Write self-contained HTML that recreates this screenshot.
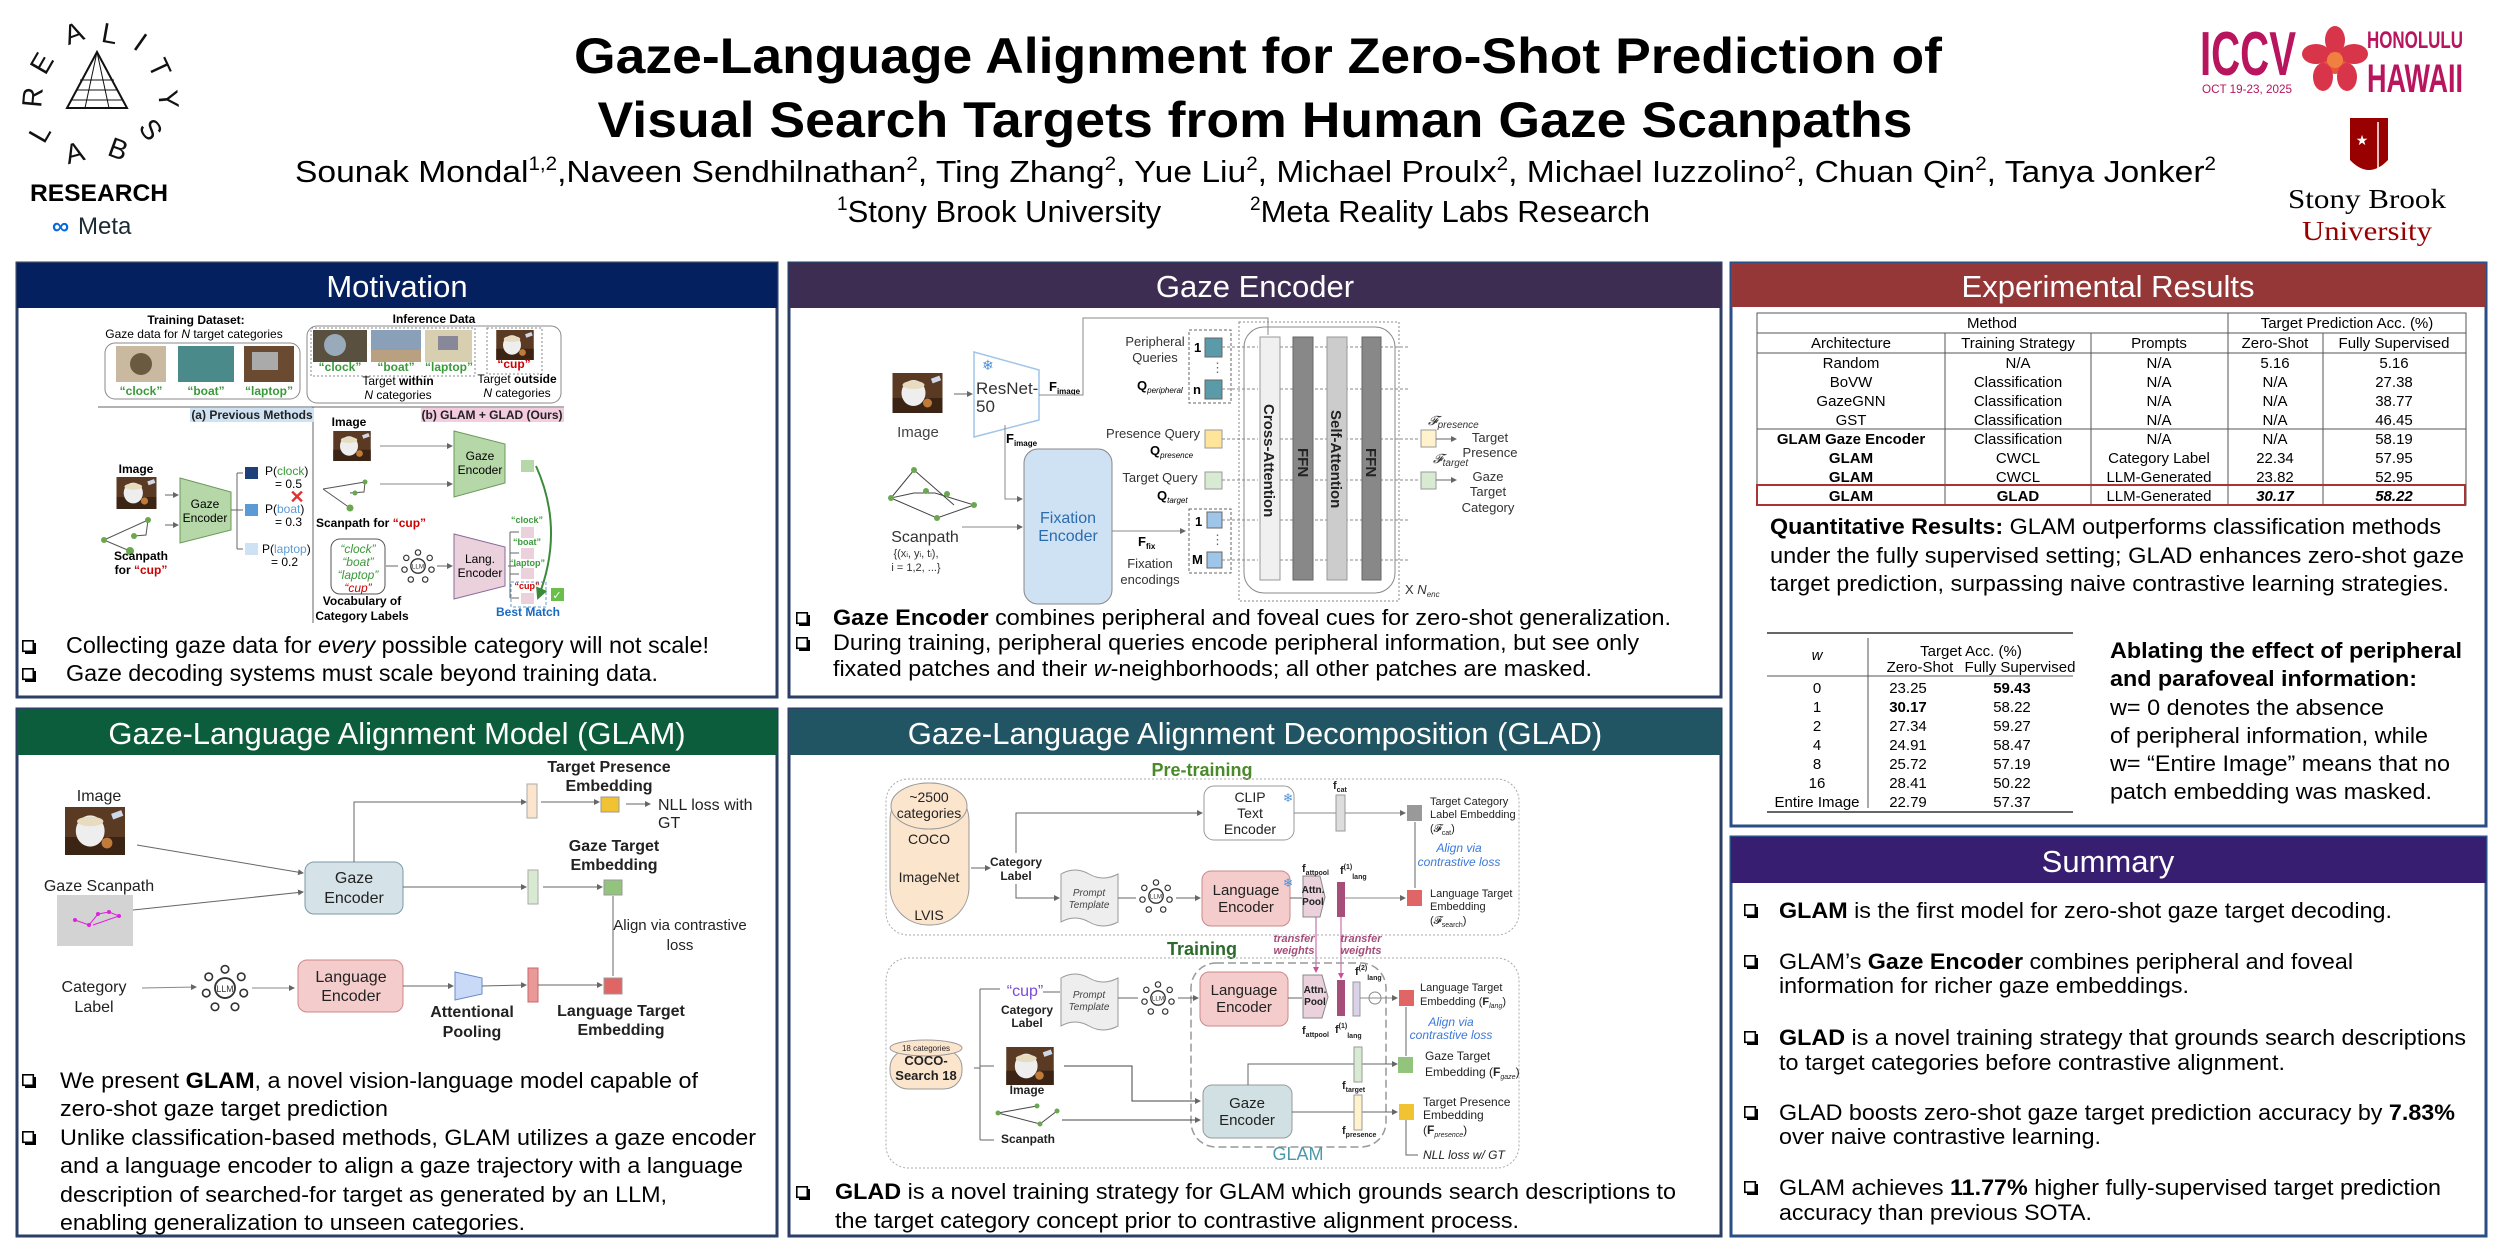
<!DOCTYPE html>
<html><head><meta charset="utf-8"><style>
html,body{margin:0;padding:0;background:#fff;}
svg{display:block;}
text{font-family:"Liberation Sans",Arial,sans-serif;}
.s{font-family:"Liberation Serif",serif;}
</style></head><body>
<svg width="2500" height="1250" viewBox="0 0 2500 1250" xmlns="http://www.w3.org/2000/svg">
<defs>
<symbol id="cup" viewBox="0 0 100 80"><rect width="100" height="80" fill="#5a3a22"/><rect x="0" y="50" width="100" height="30" fill="#3b2414"/><ellipse cx="42" cy="40" rx="24" ry="26" fill="#eee"/><ellipse cx="42" cy="24" rx="22" ry="8" fill="#e8dcc0"/><rect x="78" y="8" width="18" height="10" fill="#cfd8e8" transform="rotate(-20 87 13)"/><circle cx="70" cy="60" r="9" fill="#c07a3a"/></symbol>
<symbol id="llm" viewBox="0 0 40 40"><circle cx="20" cy="20" r="8" fill="#fff" stroke="#333" stroke-width="1.5"/><g fill="#fff" stroke="#333" stroke-width="1.3"><circle cx="20" cy="5" r="3"/><circle cx="33" cy="11" r="3"/><circle cx="35" cy="24" r="3"/><circle cx="28" cy="35" r="3"/><circle cx="12" cy="35" r="3"/><circle cx="5" cy="24" r="3"/><circle cx="7" cy="11" r="3"/></g><text x="20" y="23" font-size="7" text-anchor="middle" fill="#333">LLM</text></symbol>
<symbol id="bul" viewBox="0 0 14 14"><rect x="3" y="3" width="11" height="11" fill="#000"/><rect x="0.8" y="0.8" width="10.5" height="10.5" fill="#fff" stroke="#000" stroke-width="1.6"/></symbol>
<marker id="ar" markerWidth="6" markerHeight="6" refX="5" refY="3" orient="auto"><path d="M0,0 L6,3 L0,6z" fill="#666"/></marker>
<marker id="arp" markerWidth="6" markerHeight="6" refX="5" refY="3" orient="auto"><path d="M0,0 L6,3 L0,6z" fill="#c2559a"/></marker>
<marker id="arg" markerWidth="6" markerHeight="6" refX="5" refY="3" orient="auto"><path d="M0,0 L6,3 L0,6z" fill="#3a8a3a"/></marker>
</defs>

<!-- ===== HEADER ===== -->
<g font-size="28" fill="#111" text-anchor="middle">
<text x="42" y="98" transform="rotate(-85 42 98)">R</text>
<text x="50" y="68" transform="rotate(-60 50 68)">E</text>
<text x="77" y="42" transform="rotate(-20 77 42)">A</text>
<text x="108" y="43" transform="rotate(10 108 43)">L</text>
<text x="135" y="50" transform="rotate(35 135 50)">I</text>
<text x="151" y="72" transform="rotate(65 151 72)">T</text>
<text x="159" y="100" transform="rotate(85 159 100)">Y</text>
<text x="48" y="138" transform="rotate(-60 48 138)">L</text>
<text x="77" y="162" transform="rotate(-15 77 162)">A</text>
<text x="115" y="158" transform="rotate(20 115 158)">B</text>
<text x="143" y="135" transform="rotate(55 143 135)">S</text>
</g>
<path d="M97,52 L67,108 L127,108 Z" fill="none" stroke="#111" stroke-width="2"/>
<path d="M97,52 L85,108 M97,52 L109,108 M76,90 L118,90 M72,100 L122,100 M80,80 L114,80" stroke="#111" stroke-width="1"/>
<text x="99" y="201" font-size="24" font-weight="bold" text-anchor="middle" textLength="138" lengthAdjust="spacingAndGlyphs">RESEARCH</text>
<text x="52" y="234" font-size="24" fill="#0668e1" font-weight="bold">∞</text>
<text x="78" y="234" font-size="24" fill="#1c2b33">Meta</text>

<text x="1258" y="73" font-size="50" font-weight="bold" text-anchor="middle" textLength="1368" lengthAdjust="spacingAndGlyphs">Gaze-Language Alignment for Zero-Shot Prediction of</text>
<text x="1255" y="137" font-size="50" font-weight="bold" text-anchor="middle" textLength="1315" lengthAdjust="spacingAndGlyphs">Visual Search Targets from Human Gaze Scanpaths</text>
<text x="295" y="182" font-size="31" textLength="1921" lengthAdjust="spacingAndGlyphs">Sounak Mondal<tspan font-size="19" dy="-12">1,2</tspan><tspan dy="12">,Naveen Sendhilnathan</tspan><tspan font-size="19" dy="-12">2</tspan><tspan dy="12">, Ting Zhang</tspan><tspan font-size="19" dy="-12">2</tspan><tspan dy="12">, Yue Liu</tspan><tspan font-size="19" dy="-12">2</tspan><tspan dy="12">, Michael Proulx</tspan><tspan font-size="19" dy="-12">2</tspan><tspan dy="12">, Michael Iuzzolino</tspan><tspan font-size="19" dy="-12">2</tspan><tspan dy="12">, Chuan Qin</tspan><tspan font-size="19" dy="-12">2</tspan><tspan dy="12">, Tanya Jonker</tspan><tspan font-size="19" dy="-12">2</tspan></text>
<text x="837" y="222" font-size="31"><tspan font-size="19" dy="-12">1</tspan><tspan dy="12">Stony Brook University</tspan></text>
<text x="1250" y="222" font-size="31"><tspan font-size="19" dy="-12">2</tspan><tspan dy="12">Meta Reality Labs Research</tspan></text>

<text x="2200" y="75" font-size="62" font-weight="bold" fill="#b8155e" textLength="96" lengthAdjust="spacingAndGlyphs">ICCV</text>
<text x="2202" y="93" font-size="12" fill="#b8155e" textLength="90" lengthAdjust="spacingAndGlyphs">OCT 19-23, 2025</text>
<g transform="translate(2335,60)"><circle r="14" fill="#e8553a"/><g fill="#d8344a"><ellipse cx="0" cy="-20" rx="10" ry="14"/><ellipse cx="19" cy="-6" rx="14" ry="10"/><ellipse cx="12" cy="17" rx="10" ry="14"/><ellipse cx="-12" cy="17" rx="10" ry="14"/><ellipse cx="-19" cy="-6" rx="14" ry="10"/></g><circle r="8" fill="#f08040"/></g>
<text x="2367" y="48" font-size="24" font-weight="bold" fill="#b8155e" textLength="96" lengthAdjust="spacingAndGlyphs">HONOLULU</text>
<text x="2367" y="92" font-size="40" font-weight="bold" fill="#b8155e" textLength="96" lengthAdjust="spacingAndGlyphs">HAWAII</text>
<path d="M2350,118 L2388,118 L2388,160 Q2369,180 2350,160 Z" fill="#990000"/>
<path d="M2378,122 L2378,170" stroke="#fff" stroke-width="1.5"/>
<text x="2362" y="145" font-size="14" fill="#fff" text-anchor="middle">★</text>
<text x="2367" y="208" class="s" font-size="27" text-anchor="middle" textLength="158" lengthAdjust="spacingAndGlyphs">Stony Brook</text>
<text x="2367" y="240" class="s" font-size="27" fill="#990000" text-anchor="middle" textLength="130" lengthAdjust="spacingAndGlyphs">University</text>

<!-- ===== PANELS ===== -->
<g stroke-width="3" fill="#fff">
<rect x="17" y="263" width="760" height="434" stroke="#2a3e66"/>
<rect x="789" y="263" width="932" height="434" stroke="#2a3e66"/>
<rect x="17" y="709" width="760" height="527" stroke="#2a3e66"/>
<rect x="789" y="709" width="932" height="527" stroke="#2a3e66"/>
<rect x="1731" y="263" width="755" height="563" stroke="#2a4e86"/>
<rect x="1731" y="837" width="755" height="399" stroke="#2a4e86"/>
</g>
<rect x="17" y="263" width="760" height="45" fill="#05205f"/>
<rect x="789" y="263" width="932" height="45" fill="#3e2d52"/>
<rect x="17" y="709" width="760" height="46" fill="#0b5d3c"/>
<rect x="789" y="709" width="932" height="46" fill="#215564"/>
<rect x="1731" y="263" width="755" height="44" fill="#953637"/>
<rect x="1731" y="837" width="755" height="46" fill="#381e70"/>
<g fill="#fff" font-size="31" text-anchor="middle">
<text x="397" y="297">Motivation</text>
<text x="1255" y="297">Gaze Encoder</text>
<text x="397" y="744">Gaze-Language Alignment Model (GLAM)</text>
<text x="1255" y="744">Gaze-Language Alignment Decomposition (GLAD)</text>
<text x="2108" y="297">Experimental Results</text>
<text x="2108" y="872">Summary</text>
</g>

<!-- ===== MOTIVATION DIAGRAM ===== -->
<g font-size="12">
<text x="196" y="324" font-weight="bold" text-anchor="middle">Training Dataset:</text>
<text x="194" y="338" text-anchor="middle">Gaze data for <tspan font-style="italic">N</tspan> target categories</text>
<rect x="105" y="343" width="195" height="56" rx="10" fill="none" stroke="#888"/>
<rect x="116" y="346" width="50" height="36" fill="#c9b9a0"/><circle cx="141" cy="364" r="11" fill="#6a5a40"/>
<rect x="178" y="346" width="56" height="36" fill="#4a8a8a"/>
<rect x="244" y="346" width="50" height="36" fill="#6a4a30"/><rect x="252" y="352" width="26" height="18" fill="#aaa"/>
<g fill="#3a9a3a" font-weight="bold" text-anchor="middle"><text x="141" y="395">“clock”</text><text x="206" y="395">“boat”</text><text x="269" y="395">“laptop”</text></g>
<text x="434" y="323" font-weight="bold" text-anchor="middle">Inference Data</text>
<rect x="307" y="326" width="254" height="77" rx="10" fill="none" stroke="#888"/>
<rect x="311" y="328" width="164" height="48" fill="none" stroke="#888" stroke-dasharray="2,2"/>
<rect x="487" y="328" width="55" height="46" fill="none" stroke="#888" stroke-dasharray="2,2"/>
<rect x="313" y="330" width="54" height="32" fill="#5a5040"/><circle cx="335" cy="345" r="11" fill="#9ab"/>
<rect x="371" y="330" width="50" height="32" fill="#8aa0b8"/><rect x="371" y="350" width="50" height="12" fill="#b8a080"/>
<rect x="425" y="330" width="47" height="32" fill="#d8cfb0"/><rect x="438" y="336" width="20" height="14" fill="#889"/>
<use href="#cup" x="490" y="330" width="50" height="30"/>
<g fill="#3a9a3a" font-weight="bold" text-anchor="middle"><text x="340" y="371">“clock”</text><text x="396" y="371">“boat”</text><text x="449" y="371">“laptop”</text></g>
<text x="514" y="368" fill="#c00" font-weight="bold" text-anchor="middle">“cup”</text>
<text x="398" y="385" text-anchor="middle">Target <tspan font-weight="bold">within</tspan></text>
<text x="398" y="399" text-anchor="middle"><tspan font-style="italic">N</tspan> categories</text>
<text x="517" y="383" text-anchor="middle">Target <tspan font-weight="bold">outside</tspan></text>
<text x="517" y="397" text-anchor="middle"><tspan font-style="italic">N</tspan> categories</text>
<line x1="98" y1="407" x2="564" y2="407" stroke="#666"/>
<line x1="313" y1="407" x2="313" y2="623" stroke="#666"/>
<rect x="190" y="408" width="124" height="14" fill="#cfe2f3"/><text x="252" y="419" font-weight="bold" fill="#222" text-anchor="middle">(a) Previous Methods</text>
<rect x="421" y="408" width="143" height="14" fill="#f4cce0"/><text x="492" y="419" font-weight="bold" fill="#222" text-anchor="middle">(b) GLAM + GLAD (Ours)</text>
<text x="136" y="473" font-weight="bold" text-anchor="middle">Image</text>
<use href="#cup" x="110" y="477" width="53" height="32"/>
<path d="M180,478 L231,492 L231,530 L180,543 Z" fill="#b6d7a8" stroke="#6a9a5a"/>
<text x="205" y="508" text-anchor="middle">Gaze</text><text x="205" y="522" text-anchor="middle">Encoder</text>
<path d="M104,540 L148,520 L146,535 L134,536 M104,540 L130,551" stroke="#555" fill="none"/>
<g fill="#6aa84f"><circle cx="104" cy="540" r="3"/><circle cx="148" cy="520" r="3"/><circle cx="134" cy="536" r="3"/><circle cx="130" cy="551" r="4"/></g>
<line x1="165" y1="495" x2="178" y2="495" stroke="#666" marker-end="url(#ar)"/>
<line x1="165" y1="525" x2="178" y2="525" stroke="#666" marker-end="url(#ar)"/>
<text x="141" y="560" font-weight="bold" text-anchor="middle">Scanpath</text>
<text x="141" y="574" font-weight="bold" text-anchor="middle">for <tspan fill="#c00">“cup”</tspan></text>
<path d="M231,510 L237,510 M237,473 L237,549 M237,473 L243,473 M237,510 L243,510 M237,549 L243,549" stroke="#666" fill="none"/>
<rect x="245" y="467" width="13" height="12" fill="#1f3f7a"/>
<rect x="245" y="504" width="13" height="12" fill="#5b9bd5"/>
<rect x="245" y="543" width="13" height="12" fill="#cfe2f3"/>
<text x="265" y="475">P(<tspan fill="#3a9a3a">clock</tspan>)</text><text x="275" y="488">= 0.5</text>
<text x="265" y="513">P(<tspan fill="#5b9bd5">boat</tspan>)</text><text x="275" y="526">= 0.3</text>
<text x="262" y="553">P(<tspan fill="#5b9bd5">laptop</tspan>)</text><text x="271" y="566">= 0.2</text>
<text x="297" y="503" fill="#e03030" font-size="18" font-weight="bold" text-anchor="middle">✕</text>
<text x="349" y="426" font-weight="bold" text-anchor="middle">Image</text>
<use href="#cup" x="325" y="431" width="54" height="30"/>
<path d="M454,431 L505,444 L505,483 L454,497 Z" fill="#b6d7a8" stroke="#6a9a5a"/>
<text x="480" y="460" text-anchor="middle">Gaze</text><text x="480" y="474" text-anchor="middle">Encoder</text>
<line x1="380" y1="446" x2="452" y2="446" stroke="#888" marker-end="url(#ar)"/>
<line x1="380" y1="484" x2="452" y2="484" stroke="#888" marker-end="url(#ar)"/>
<path d="M323,489 L365,482 L364,492 L350,493 M323,489 L350,508" stroke="#555" fill="none"/>
<g fill="#6aa84f"><circle cx="350" cy="508" r="3.5"/><circle cx="365" cy="482" r="2.5"/><circle cx="355" cy="493" r="2.5"/></g>
<text x="316" y="527" font-weight="bold">Scanpath for <tspan fill="#c00">“cup”</tspan></text>
<rect x="331" y="539" width="54" height="55" rx="9" fill="none" stroke="#555"/>
<g font-style="italic" text-anchor="middle"><text x="358" y="553" fill="#3a9a3a">“clock”</text><text x="358" y="566" fill="#3a9a3a">“boat”</text><text x="358" y="579" fill="#3a9a3a">“laptop”</text><text x="358" y="592" fill="#c00">“cup”</text></g>
<use href="#llm" x="400" y="548" width="36" height="36"/>
<line x1="386" y1="566" x2="398" y2="566" stroke="#666"/><line x1="437" y1="566" x2="452" y2="566" stroke="#666" marker-end="url(#ar)"/>
<path d="M454,534 L505,547 L505,586 L454,599 Z" fill="#ead1dc" stroke="#8a6a9a"/>
<text x="480" y="563" text-anchor="middle">Lang.</text><text x="480" y="577" text-anchor="middle">Encoder</text>
<text x="362" y="605" font-weight="bold" text-anchor="middle">Vocabulary of</text>
<text x="362" y="620" font-weight="bold" text-anchor="middle">Category Labels</text>
<rect x="521" y="460" width="13" height="12" fill="#b6d7a8"/>
<g fill="#ead1dc"><rect x="521" y="527" width="13" height="11"/><rect x="521" y="548" width="13" height="11"/><rect x="521" y="568" width="13" height="11"/><rect x="521" y="593" width="13" height="11"/></g>
<g font-size="9" fill="#3a9a3a" font-weight="bold" text-anchor="middle"><text x="527" y="523">“clock”</text><text x="527" y="545">“boat”</text><text x="527" y="566">“laptop”</text><text x="527" y="589" fill="#c00">“cup”</text></g>
<rect x="511" y="582" width="35" height="25" fill="none" stroke="#5b9bd5" stroke-dasharray="3,2"/>
<path d="M508,566 L516,566 M510,532 L510,598 M510,532 L519,532 M510,553 L519,553 M510,574 L519,574 M510,598 L519,598" stroke="#666" fill="none"/>
<path d="M536,466 Q565,530 538,598" stroke="#3a8a3a" stroke-width="2" fill="none" marker-end="url(#arg)"/>
<rect x="551" y="588" width="13" height="13" fill="#6abf4b"/><text x="557" y="599" fill="#fff" font-size="11" text-anchor="middle">✓</text>
<text x="528" y="616" fill="#1a6abf" font-weight="bold" text-anchor="middle">Best Match</text>
</g>
<g font-size="23">
<use href="#bul" x="22" y="640" width="14" height="14"/><text x="66" y="653" textLength="643" lengthAdjust="spacingAndGlyphs">Collecting gaze data for <tspan font-style="italic">every</tspan> possible category will not scale!</text>
<use href="#bul" x="22" y="668" width="14" height="14"/><text x="66" y="681" textLength="592" lengthAdjust="spacingAndGlyphs">Gaze decoding systems must scale beyond training data.</text>
</g>

<!-- ===== GAZE ENCODER DIAGRAM ===== -->
<g font-size="13">
<use href="#cup" x="882" y="373" width="71" height="40"/>
<text x="918" y="437" font-size="15" fill="#444" text-anchor="middle">Image</text>
<line x1="954" y1="394" x2="972" y2="394" stroke="#666" marker-end="url(#ar)"/>
<path d="M974,352 L1039,370 L1039,420 L974,437 Z" fill="#fff" stroke="#9fc5e8" stroke-width="1.5"/>
<text x="982" y="370" fill="#4a90d9" font-size="14">❄</text>
<text x="976" y="394" font-size="17" fill="#333">ResNet-</text><text x="976" y="412" font-size="17" fill="#333">50</text>
<text x="1049" y="391" font-weight="bold">F<tspan font-size="8" dy="3">image</tspan></text>
<text x="1006" y="443" font-weight="bold">F<tspan font-size="8" dy="3">image</tspan></text>
<path d="M1039,395 L1083,395 L1083,318 L1268,318 L1268,335" stroke="#888" fill="none"/>
<path d="M1005,425 L1005,499 L1022,499" stroke="#888" fill="none" marker-end="url(#ar)"/>
<rect x="1024" y="449" width="88" height="155" rx="14" fill="#cfe2f3" stroke="#888"/>
<text x="1068" y="523" fill="#2b6cb0" font-size="16" text-anchor="middle">Fixation</text>
<text x="1068" y="541" fill="#2b6cb0" font-size="16" text-anchor="middle">Encoder</text>
<path d="M914,470 L954,505 M914,470 L891,498 L914,493 L935,493 L974,505 L937,518 L891,498" stroke="#444" fill="none"/>
<g fill="#6aa84f"><circle cx="914" cy="470" r="3"/><circle cx="891" cy="498" r="3"/><circle cx="926" cy="491" r="3"/><circle cx="947" cy="494" r="3"/><circle cx="974" cy="505" r="3"/><circle cx="937" cy="518" r="3"/></g>
<line x1="962" y1="527" x2="1022" y2="527" stroke="#888" marker-end="url(#ar)"/>
<text x="925" y="542" font-size="16" fill="#333" text-anchor="middle">Scanpath</text>
<text x="916" y="557" font-size="11" fill="#333" text-anchor="middle">{(x<tspan font-size="7">i</tspan>, y<tspan font-size="7">i</tspan>, t<tspan font-size="7">i</tspan>),</text>
<text x="916" y="571" font-size="11" fill="#333" text-anchor="middle">i = 1,2, ...}</text>
<line x1="1112" y1="531" x2="1185" y2="531" stroke="#888" marker-end="url(#ar)"/>
<text x="1138" y="546" font-weight="bold">F<tspan font-size="8" dy="3">fix</tspan></text>
<text x="1150" y="568" fill="#333" text-anchor="middle">Fixation</text><text x="1150" y="584" fill="#333" text-anchor="middle">encodings</text>
<rect x="1189" y="330" width="42" height="73" fill="none" stroke="#666" stroke-dasharray="3,2"/>
<rect x="1205" y="338" width="17" height="19" fill="#5b9aa8" stroke="#666"/><rect x="1205" y="380" width="17" height="19" fill="#5b9aa8" stroke="#666"/>
<text x="1194" y="352" font-weight="bold">1</text><text x="1193" y="394" font-weight="bold">n</text>
<text x="1211" y="372" fill="#666">⋮</text>
<text x="1155" y="346" fill="#333" text-anchor="middle">Peripheral</text><text x="1155" y="362" fill="#333" text-anchor="middle">Queries</text>
<text x="1137" y="390" font-weight="bold">Q<tspan font-size="8" font-style="italic" font-weight="normal" dy="3">peripheral</tspan></text>
<text x="1153" y="438" fill="#333" text-anchor="middle">Presence Query</text>
<text x="1150" y="455" font-weight="bold">Q<tspan font-size="8" font-style="italic" font-weight="normal" dy="3">presence</tspan></text>
<rect x="1205" y="430" width="17" height="18" fill="#ffe599" stroke="#999"/>
<text x="1160" y="482" fill="#333" text-anchor="middle">Target Query</text>
<text x="1157" y="500" font-weight="bold">Q<tspan font-size="8" font-style="italic" font-weight="normal" dy="3">target</tspan></text>
<rect x="1205" y="472" width="17" height="17" fill="#d9ead3" stroke="#999"/>
<rect x="1189" y="509" width="42" height="64" fill="none" stroke="#666" stroke-dasharray="3,2"/>
<rect x="1207" y="512" width="15" height="16" fill="#9fc5e8" stroke="#666"/><rect x="1207" y="552" width="15" height="16" fill="#9fc5e8" stroke="#666"/>
<text x="1195" y="526" font-weight="bold">1</text><text x="1192" y="564" font-weight="bold">M</text><text x="1211" y="544" fill="#666">⋮</text>
<rect x="1239" y="322" width="160" height="279" fill="none" stroke="#888" stroke-dasharray="2,2"/>
<rect x="1244" y="327" width="151" height="266" rx="20" fill="none" stroke="#888"/>
<g stroke="#888" stroke-dasharray="3,2">
<line x1="1222" y1="347" x2="1258" y2="347"/><line x1="1222" y1="389" x2="1258" y2="389"/><line x1="1222" y1="439" x2="1258" y2="439"/><line x1="1222" y1="480" x2="1258" y2="480"/><line x1="1222" y1="520" x2="1258" y2="520"/><line x1="1222" y1="560" x2="1258" y2="560"/>
<line x1="1280" y1="347" x2="1410" y2="347"/><line x1="1280" y1="389" x2="1410" y2="389"/><line x1="1280" y1="439" x2="1418" y2="439"/><line x1="1280" y1="480" x2="1418" y2="480"/><line x1="1280" y1="520" x2="1410" y2="520"/><line x1="1280" y1="560" x2="1410" y2="560"/>
</g>
<rect x="1260" y="337" width="20" height="243" fill="#f0f0f0" stroke="#999"/>
<rect x="1293" y="337" width="20" height="243" fill="#888" stroke="#666"/>
<rect x="1327" y="337" width="20" height="243" fill="#ccc" stroke="#999"/>
<rect x="1362" y="337" width="19" height="243" fill="#888" stroke="#666"/>
<g font-weight="bold" font-size="15" fill="#222" font-family="DejaVu Sans,sans-serif">
<text transform="translate(1264,404) rotate(90)">Cross-Attention</text>
<text transform="translate(1298,448) rotate(90)">FFN</text>
<text transform="translate(1331,410) rotate(90)">Self-Attention</text>
<text transform="translate(1366,448) rotate(90)">FFN</text>
</g>
<text x="1428" y="425" font-style="italic" fill="#333" font-family="Liberation Serif,serif">𝓕<tspan font-size="10" dy="3">presence</tspan></text>
<rect x="1421" y="430" width="15" height="17" fill="#fff2cc" stroke="#999"/>
<line x1="1436" y1="439" x2="1456" y2="439" stroke="#666" marker-end="url(#ar)"/>
<text x="1490" y="442" fill="#333" text-anchor="middle">Target</text><text x="1490" y="457" fill="#333" text-anchor="middle">Presence</text>
<text x="1433" y="463" font-style="italic" fill="#333" font-family="Liberation Serif,serif">𝓕<tspan font-size="10" dy="3">target</tspan></text>
<rect x="1421" y="472" width="15" height="17" fill="#d9ead3" stroke="#999"/>
<line x1="1436" y1="480" x2="1456" y2="480" stroke="#666" marker-end="url(#ar)"/>
<text x="1488" y="481" fill="#333" text-anchor="middle">Gaze</text><text x="1488" y="496" fill="#333" text-anchor="middle">Target</text><text x="1488" y="512" fill="#333" text-anchor="middle">Category</text>
<text x="1405" y="594" fill="#333">X <tspan font-style="italic">N</tspan><tspan font-size="8" font-style="italic" dy="3">enc</tspan></text>
</g>
<g font-size="22">
<use href="#bul" x="796" y="612" width="14" height="14"/><text x="833" y="625" textLength="838" lengthAdjust="spacingAndGlyphs"><tspan font-weight="bold">Gaze Encoder</tspan> combines peripheral and foveal cues for zero-shot generalization.</text>
<use href="#bul" x="796" y="637" width="14" height="14"/><text x="833" y="650" textLength="806" lengthAdjust="spacingAndGlyphs">During training, peripheral queries encode peripheral information, but see only</text>
<text x="833" y="676" textLength="759" lengthAdjust="spacingAndGlyphs">fixated patches and their <tspan font-style="italic">w</tspan>-neighborhoods; all other patches are masked.</text>
</g>

<!-- ===== GLAM DIAGRAM ===== -->
<g font-size="16" fill="#222">
<text x="99" y="801" text-anchor="middle">Image</text>
<use href="#cup" x="53" y="807" width="84" height="48"/>
<text x="99" y="891" text-anchor="middle">Gaze Scanpath</text>
<rect x="57" y="895" width="76" height="51" fill="#d3d3d3"/>
<path d="M75,920 L89,925 L98,914 L109,912 L119,916 L93,925" stroke="#e020e0" fill="none"/>
<g fill="#e020e0"><circle cx="75" cy="920" r="2"/><circle cx="89" cy="925" r="2"/><circle cx="98" cy="914" r="2"/><circle cx="109" cy="912" r="2"/><circle cx="119" cy="916" r="2"/></g>
<line x1="137" y1="845" x2="303" y2="873" stroke="#666" marker-end="url(#ar)"/>
<line x1="133" y1="910" x2="303" y2="892" stroke="#666" marker-end="url(#ar)"/>
<rect x="305" y="862" width="98" height="52" rx="9" fill="#d5e3e8" stroke="#7a9aa5"/>
<text x="354" y="883" text-anchor="middle">Gaze</text><text x="354" y="903" text-anchor="middle">Encoder</text>
<path d="M354,862 L354,802 L526,802" stroke="#666" fill="none" marker-end="url(#ar)"/>
<line x1="403" y1="887" x2="526" y2="887" stroke="#666" marker-end="url(#ar)"/>
<rect x="527" y="784" width="10" height="34" fill="#fce5cd" stroke="#aaa"/>
<rect x="528" y="870" width="10" height="34" fill="#d9ead3" stroke="#aaa"/>
<rect x="528" y="968" width="10" height="34" fill="#ea9999" stroke="#c66"/>
<line x1="541" y1="802" x2="599" y2="802" stroke="#666" marker-end="url(#ar)"/>
<line x1="543" y1="887" x2="602" y2="887" stroke="#666" marker-end="url(#ar)"/>
<line x1="538" y1="985" x2="602" y2="985" stroke="#666" marker-end="url(#ar)"/>
<rect x="601" y="797" width="18" height="15" fill="#f1c232" stroke="#999"/>
<rect x="604" y="880" width="18" height="15" fill="#93c47d" stroke="#999"/>
<rect x="604" y="978" width="18" height="16" fill="#e06666" stroke="#999"/>
<line x1="613" y1="896" x2="613" y2="976" stroke="#666"/>
<line x1="626" y1="804" x2="650" y2="804" stroke="#666" marker-end="url(#ar)"/>
<text x="609" y="772" font-weight="bold" text-anchor="middle">Target  Presence</text>
<text x="609" y="791" font-weight="bold" text-anchor="middle">Embedding</text>
<text x="658" y="810">NLL  loss with</text><text x="658" y="828">GT</text>
<text x="614" y="851" font-weight="bold" text-anchor="middle">Gaze Target</text>
<text x="614" y="870" font-weight="bold" text-anchor="middle">Embedding</text>
<text x="680" y="930" font-size="15" text-anchor="middle">Align via contrastive</text>
<text x="680" y="950" font-size="15" text-anchor="middle">loss</text>
<text x="94" y="992" text-anchor="middle">Category</text><text x="94" y="1012" text-anchor="middle">Label</text>
<line x1="142" y1="988" x2="196" y2="987" stroke="#888" marker-end="url(#ar)"/>
<use href="#llm" x="200" y="963" width="50" height="50"/>
<line x1="252" y1="988" x2="294" y2="988" stroke="#888" marker-end="url(#ar)"/>
<rect x="298" y="960" width="105" height="52" rx="9" fill="#f4cccc" stroke="#c88"/>
<text x="351" y="982" text-anchor="middle">Language</text><text x="351" y="1001" text-anchor="middle">Encoder</text>
<line x1="403" y1="986" x2="453" y2="986" stroke="#666" marker-end="url(#ar)"/>
<path d="M455,972 L482,978 L482,994 L455,1000 Z" fill="#c9daf8" stroke="#6a8ac8"/>
<line x1="482" y1="986" x2="526" y2="985" stroke="#666" marker-end="url(#ar)"/>
<text x="472" y="1017" font-weight="bold" text-anchor="middle">Attentional</text>
<text x="472" y="1037" font-weight="bold" text-anchor="middle">Pooling</text>
<text x="621" y="1016" font-weight="bold" text-anchor="middle">Language Target</text>
<text x="621" y="1035" font-weight="bold" text-anchor="middle">Embedding</text>
</g>
<g font-size="22">
<use href="#bul" x="22" y="1074" width="14" height="14"/><text x="60" y="1088" textLength="638" lengthAdjust="spacingAndGlyphs">We present <tspan font-weight="bold">GLAM</tspan>, a novel vision-language model capable of</text>
<text x="60" y="1116" textLength="328" lengthAdjust="spacingAndGlyphs">zero-shot gaze target prediction</text>
<use href="#bul" x="22" y="1131" width="14" height="14"/><text x="60" y="1145" textLength="696" lengthAdjust="spacingAndGlyphs">Unlike classification-based methods, GLAM utilizes a gaze encoder</text>
<text x="60" y="1173" textLength="683" lengthAdjust="spacingAndGlyphs">and a language encoder to align a gaze trajectory with a language</text>
<text x="60" y="1202" textLength="607" lengthAdjust="spacingAndGlyphs">description of searched-for target as generated by an LLM,</text>
<text x="60" y="1230" textLength="465" lengthAdjust="spacingAndGlyphs">enabling generalization to unseen categories.</text>
</g>

<!-- ===== GLAD DIAGRAM ===== -->
<g font-size="12" fill="#222">
<text x="1202" y="776" font-size="18" font-weight="bold" fill="#4a8a2a" text-anchor="middle">Pre-training</text>
<rect x="886" y="779" width="633" height="156" rx="22" fill="none" stroke="#aaa" stroke-dasharray="2,2"/>
<rect x="890" y="783" width="79" height="142" rx="38" fill="#fce5cd" stroke="#999"/>
<ellipse cx="929" cy="806" rx="38" ry="23" fill="#fce5cd" stroke="#999"/>
<g font-size="14" text-anchor="middle"><text x="929" y="802">~2500</text><text x="929" y="818">categories</text><text x="929" y="844">COCO</text><text x="929" y="882">ImageNet</text><text x="929" y="920">LVIS</text></g>
<line x1="971" y1="868" x2="990" y2="868" stroke="#666" marker-end="url(#ar)"/>
<text x="1016" y="866" font-weight="bold" text-anchor="middle">Category</text><text x="1016" y="880" font-weight="bold" text-anchor="middle">Label</text>
<path d="M1016,853 L1016,813 L1202,813" stroke="#666" fill="none" marker-end="url(#ar)"/>
<path d="M1016,884 L1016,898 L1059,898" stroke="#666" fill="none" marker-end="url(#ar)"/>
<rect x="1204" y="786" width="90" height="54" rx="10" fill="#fff" stroke="#999"/>
<g font-size="14" text-anchor="middle"><text x="1250" y="802">CLIP</text><text x="1250" y="818">Text</text><text x="1250" y="834">Encoder</text></g>
<text x="1283" y="802" fill="#4a90d9" font-size="12">❄</text>
<line x1="1294" y1="813" x2="1405" y2="813" stroke="#888" marker-end="url(#ar)"/>
<rect x="1336" y="795" width="9" height="36" fill="#ddd" stroke="#999"/>
<text x="1333" y="789" font-weight="bold" font-size="11">f<tspan font-size="7" dy="3">cat</tspan></text>
<rect x="1407" y="805" width="15" height="16" fill="#999"/>
<text x="1430" y="805" font-size="11">Target Category</text><text x="1430" y="818" font-size="11">Label Embedding</text><text x="1430" y="832" font-size="11">(𝓕<tspan font-size="7" dy="3">cat</tspan><tspan dy="-3">)</tspan></text>
<line x1="1415" y1="822" x2="1415" y2="888" stroke="#666"/>
<text x="1459" y="852" font-size="12" font-style="italic" fill="#3c78d8" text-anchor="middle">Align via</text>
<text x="1459" y="866" font-size="12" font-style="italic" fill="#3c78d8" text-anchor="middle">contrastive loss</text>
<path d="M1061,874 Q1075,866 1089,874 Q1103,882 1118,874 L1118,922 Q1103,930 1089,922 Q1075,914 1061,922 Z" fill="#eee" stroke="#999"/>
<text x="1089" y="896" font-size="10" font-style="italic" text-anchor="middle" fill="#444">Prompt</text><text x="1089" y="908" font-size="10" font-style="italic" text-anchor="middle" fill="#444">Template</text>
<use href="#llm" x="1138" y="878" width="36" height="36"/>
<line x1="1118" y1="898" x2="1136" y2="898" stroke="#666"/><line x1="1176" y1="898" x2="1200" y2="898" stroke="#666" marker-end="url(#ar)"/>
<rect x="1202" y="871" width="88" height="55" rx="9" fill="#f4cccc" stroke="#c88"/>
<g font-size="15" text-anchor="middle"><text x="1246" y="895">Language</text><text x="1246" y="912">Encoder</text></g>
<text x="1283" y="887" fill="#4a90d9">❄</text>
<line x1="1290" y1="898" x2="1302" y2="898" stroke="#666"/>
<path d="M1303,876 L1320,876 L1325,897 L1320,917 L1303,917 Z" fill="#ead1dc" stroke="#888"/>
<text x="1313" y="893" font-size="10" font-weight="bold" text-anchor="middle">Attn.</text><text x="1313" y="905" font-size="10" font-weight="bold" text-anchor="middle">Pool</text>
<rect x="1337" y="882" width="8" height="35" fill="#a64d79"/>
<text x="1302" y="872" font-size="11" font-weight="bold">f<tspan font-size="7" dy="3">attpool</tspan></text>
<text x="1340" y="874" font-size="11" font-weight="bold">f<tspan font-size="7" dy="-5">(1)</tspan><tspan font-size="7" dy="10">lang</tspan></text>
<line x1="1345" y1="898" x2="1405" y2="898" stroke="#888" marker-end="url(#ar)"/>
<rect x="1407" y="890" width="15" height="16" fill="#e06666"/>
<text x="1430" y="897" font-size="11">Language Target</text><text x="1430" y="910" font-size="11">Embedding</text><text x="1430" y="924" font-size="11">(𝓕<tspan font-size="7" dy="3">search</tspan><tspan dy="-3">)</tspan></text>
<line x1="1316" y1="917" x2="1316" y2="972" stroke="#c2559a" marker-end="url(#arp)"/>
<line x1="1341" y1="917" x2="1341" y2="978" stroke="#c2559a" marker-end="url(#arp)"/>
<g font-size="11" font-style="italic" font-weight="bold" fill="#a64d79" text-anchor="middle"><text x="1294" y="942">transfer</text><text x="1294" y="954">weights</text><text x="1361" y="942">transfer</text><text x="1361" y="954">weights</text></g>
<text x="1202" y="955" font-size="18" font-weight="bold" fill="#2a6a2a" text-anchor="middle">Training</text>
<rect x="886" y="958" width="633" height="210" rx="22" fill="none" stroke="#aaa" stroke-dasharray="2,2"/>
<rect x="1191" y="963" width="195" height="184" rx="25" fill="none" stroke="#999" stroke-width="1.5" stroke-dasharray="8,4"/>
<text x="1298" y="1160" font-size="18" fill="#4a9aaa" text-anchor="middle">GLAM</text>
<path d="M974,1068 L980,1068 M980,989 L980,1140 M980,989 L1000,989 M980,1140 L994,1140 M980,1066 L994,1066" stroke="#666" fill="none"/>
<text x="1025" y="996" font-size="16" fill="#7a4ad8" text-anchor="middle">“cup”</text>
<line x1="1043" y1="992" x2="1060" y2="992" stroke="#666"/>
<text x="1027" y="1014" font-weight="bold" text-anchor="middle">Category</text><text x="1027" y="1027" font-weight="bold" text-anchor="middle">Label</text>
<path d="M1061,978 Q1075,970 1089,978 Q1103,986 1118,978 L1118,1026 Q1103,1034 1089,1026 Q1075,1018 1061,1026 Z" fill="#eee" stroke="#999"/>
<text x="1089" y="998" font-size="10" font-style="italic" text-anchor="middle" fill="#444">Prompt</text><text x="1089" y="1010" font-size="10" font-style="italic" text-anchor="middle" fill="#444">Template</text>
<use href="#llm" x="1140" y="980" width="36" height="36"/>
<line x1="1118" y1="998" x2="1138" y2="998" stroke="#666"/><line x1="1178" y1="998" x2="1198" y2="998" stroke="#666" marker-end="url(#ar)"/>
<rect x="1200" y="972" width="88" height="54" rx="9" fill="#f4cccc" stroke="#c88"/>
<g font-size="15" text-anchor="middle"><text x="1244" y="995">Language</text><text x="1244" y="1012">Encoder</text></g>
<line x1="1288" y1="998" x2="1302" y2="998" stroke="#666"/>
<path d="M1303,975 L1322,975 L1328,997 L1322,1018 L1303,1018 Z" fill="#ead1dc" stroke="#888"/>
<text x="1315" y="993" font-size="10" font-weight="bold" text-anchor="middle">Attn.</text><text x="1315" y="1005" font-size="10" font-weight="bold" text-anchor="middle">Pool</text>
<rect x="1337" y="980" width="8" height="36" fill="#a64d79"/>
<rect x="1353" y="982" width="7" height="34" fill="#d9d2e9" stroke="#999"/>
<circle cx="1375" cy="998" r="6" fill="#fff" stroke="#888"/>
<line x1="1360" y1="998" x2="1397" y2="998" stroke="#888" marker-end="url(#ar)"/>
<text x="1302" y="1034" font-size="11" font-weight="bold">f<tspan font-size="7" dy="3">attpool</tspan></text>
<text x="1335" y="1033" font-size="11" font-weight="bold">f<tspan font-size="7" dy="-5">(1)</tspan><tspan font-size="7" dy="10">lang</tspan></text>
<text x="1355" y="975" font-size="11" font-weight="bold">f<tspan font-size="7" dy="-5">(2)</tspan><tspan font-size="7" dy="10">lang</tspan></text>
<rect x="1399" y="990" width="15" height="16" fill="#e06666"/>
<text x="1420" y="991" font-size="11">Language Target</text><text x="1420" y="1005" font-size="11">Embedding (<tspan font-weight="bold">F</tspan><tspan font-size="7" font-style="italic" dy="3">lang</tspan><tspan dy="-3">)</tspan></text>
<line x1="1406" y1="1007" x2="1406" y2="1056" stroke="#666"/>
<text x="1451" y="1026" font-size="12" font-style="italic" fill="#3c78d8" text-anchor="middle">Align via</text>
<text x="1451" y="1039" font-size="12" font-style="italic" fill="#3c78d8" text-anchor="middle">contrastive loss</text>
<rect x="890" y="1050" width="72" height="39" rx="18" fill="#fce5cd" stroke="#999"/>
<ellipse cx="926" cy="1048" rx="36" ry="8" fill="#fce5cd" stroke="#999"/>
<text x="926" y="1051" font-size="8" text-anchor="middle">18 categories</text>
<text x="926" y="1065" font-size="13" font-weight="bold" text-anchor="middle">COCO-</text><text x="926" y="1080" font-size="13" font-weight="bold" text-anchor="middle">Search 18</text>
<use href="#cup" x="996" y="1047" width="68" height="38"/>
<text x="1027" y="1094" font-weight="bold" text-anchor="middle">Image</text>
<path d="M1064,1066 L1132,1066 L1132,1101 L1200,1101" stroke="#444" fill="none" marker-end="url(#ar)"/>
<path d="M998,1113 L1037,1106 M998,1113 L1040,1124 L1057,1111" stroke="#444" fill="none"/>
<g fill="#6aa84f"><circle cx="998" cy="1113" r="2.5"/><circle cx="1037" cy="1106" r="2.5"/><circle cx="1040" cy="1124" r="2.5"/><circle cx="1057" cy="1111" r="2.5"/></g>
<line x1="1062" y1="1120" x2="1200" y2="1120" stroke="#444" marker-end="url(#ar)"/>
<text x="1028" y="1143" font-weight="bold" text-anchor="middle">Scanpath</text>
<rect x="1203" y="1085" width="89" height="53" rx="9" fill="#d0e0e3" stroke="#999"/>
<g font-size="15" text-anchor="middle"><text x="1247" y="1108">Gaze</text><text x="1247" y="1125">Encoder</text></g>
<path d="M1248,1085 L1248,1064 L1397,1064" stroke="#666" fill="none" marker-end="url(#ar)"/>
<line x1="1292" y1="1112" x2="1397" y2="1112" stroke="#666" marker-end="url(#ar)"/>
<rect x="1354" y="1047" width="8" height="35" fill="#d9ead3" stroke="#999"/>
<rect x="1354" y="1095" width="8" height="35" fill="#fff2cc" stroke="#999"/>
<text x="1342" y="1089" font-size="11" font-weight="bold">f<tspan font-size="7" dy="3">target</tspan></text>
<text x="1342" y="1134" font-size="11" font-weight="bold">f<tspan font-size="7" dy="3">presence</tspan></text>
<rect x="1398" y="1057" width="15" height="16" fill="#93c47d"/>
<rect x="1399" y="1104" width="15" height="16" fill="#f1c232"/>
<text x="1425" y="1060" font-size="12">Gaze Target</text><text x="1425" y="1076" font-size="12">Embedding (<tspan font-weight="bold">F</tspan><tspan font-size="7" font-style="italic" dy="3">gaze</tspan><tspan dy="-3">)</tspan></text>
<text x="1423" y="1106" font-size="12">Target Presence</text><text x="1423" y="1119" font-size="12">Embedding</text><text x="1423" y="1134" font-size="12">(<tspan font-weight="bold">F</tspan><tspan font-size="7" font-style="italic" dy="3">presence</tspan><tspan dy="-3">)</tspan></text>
<path d="M1406,1120 L1406,1155 L1418,1155" stroke="#666" fill="none"/>
<text x="1423" y="1159" font-size="12" font-style="italic">NLL  loss w/ GT</text>
</g>
<g font-size="22">
<use href="#bul" x="796" y="1186" width="14" height="14"/><text x="835" y="1199" textLength="841" lengthAdjust="spacingAndGlyphs"><tspan font-weight="bold">GLAD</tspan> is a novel training strategy for GLAM which grounds search descriptions to</text>
<text x="835" y="1228" textLength="684" lengthAdjust="spacingAndGlyphs">the target category concept prior to contrastive alignment process.</text>
</g>

<!-- ===== EXPERIMENTAL RESULTS ===== -->
<g font-size="15" text-anchor="middle">
<g stroke="#555" stroke-width="1" fill="none">
<rect x="1757" y="313" width="709" height="192"/>
<line x1="1757" y1="333" x2="2466" y2="333"/><line x1="1757" y1="353" x2="2466" y2="353"/><line x1="1757" y1="429" x2="2466" y2="429"/>
<line x1="1945" y1="333" x2="1945" y2="505"/><line x1="2091" y1="333" x2="2091" y2="505"/><line x1="2228" y1="313" x2="2228" y2="505"/><line x1="2323" y1="333" x2="2323" y2="505"/>
</g>
<rect x="1757" y="485" width="708" height="20" fill="none" stroke="#a33" stroke-width="2"/>
<g font-family="Liberation Serif,serif">
<text x="1992" y="328" font-family="Liberation Serif">Method</text><text x="2347" y="328" font-family="Liberation Serif">Target Prediction Acc. (%)</text>
<g font-family="Liberation Serif">
<text x="1851" y="348">Architecture</text><text x="2018" y="348">Training Strategy</text><text x="2159" y="348">Prompts</text><text x="2275" y="348">Zero-Shot</text><text x="2394" y="348">Fully Supervised</text>
<text x="1851" y="368">Random</text><text x="2018" y="368">N/A</text><text x="2159" y="368">N/A</text><text x="2275" y="368">5.16</text><text x="2394" y="368">5.16</text>
<text x="1851" y="387">BoVW</text><text x="2018" y="387">Classification</text><text x="2159" y="387">N/A</text><text x="2275" y="387">N/A</text><text x="2394" y="387">27.38</text>
<text x="1851" y="406">GazeGNN</text><text x="2018" y="406">Classification</text><text x="2159" y="406">N/A</text><text x="2275" y="406">N/A</text><text x="2394" y="406">38.77</text>
<text x="1851" y="425">GST</text><text x="2018" y="425">Classification</text><text x="2159" y="425">N/A</text><text x="2275" y="425">N/A</text><text x="2394" y="425">46.45</text>
<text x="1851" y="444" font-weight="bold">GLAM Gaze Encoder</text><text x="2018" y="444">Classification</text><text x="2159" y="444">N/A</text><text x="2275" y="444">N/A</text><text x="2394" y="444">58.19</text>
<text x="1851" y="463" font-weight="bold">GLAM</text><text x="2018" y="463">CWCL</text><text x="2159" y="463">Category Label</text><text x="2275" y="463">22.34</text><text x="2394" y="463">57.95</text>
<text x="1851" y="482" font-weight="bold">GLAM</text><text x="2018" y="482">CWCL</text><text x="2159" y="482">LLM-Generated</text><text x="2275" y="482">23.82</text><text x="2394" y="482">52.95</text>
<text x="1851" y="501" font-weight="bold">GLAM</text><text x="2018" y="501" font-weight="bold">GLAD</text><text x="2159" y="501">LLM-Generated</text><text x="2275" y="501" font-weight="bold" font-style="italic">30.17</text><text x="2394" y="501" font-weight="bold" font-style="italic">58.22</text>
</g></g></g>
<g font-size="22">
<text x="1770" y="534" textLength="671" lengthAdjust="spacingAndGlyphs"><tspan font-weight="bold">Quantitative Results:</tspan> GLAM outperforms classification methods</text>
<text x="1770" y="563" textLength="694" lengthAdjust="spacingAndGlyphs">under the  fully supervised setting; GLAD enhances zero-shot gaze</text>
<text x="1770" y="591" textLength="679" lengthAdjust="spacingAndGlyphs">target prediction, surpassing naive contrastive learning strategies.</text>
</g>
<g font-family="Liberation Serif,serif" font-size="15" text-anchor="middle">
<line x1="1767" y1="633" x2="2073" y2="633" stroke="#333" stroke-width="1.5"/>
<line x1="1767" y1="676" x2="2073" y2="676" stroke="#555"/>
<line x1="1767" y1="812" x2="2073" y2="812" stroke="#333" stroke-width="1.5"/>
<line x1="1868" y1="638" x2="1868" y2="808" stroke="#555"/>
<text x="1817" y="660" font-style="italic" font-family="Liberation Serif,serif">w</text>
<text x="1971" y="656" font-family="Liberation Serif,serif">Target Acc. (%)</text>
<g font-family="Liberation Serif,serif">
<text x="1920" y="672">Zero-Shot</text><text x="2020" y="672">Fully Supervised</text>
<text x="1817" y="693">0</text><text x="1908" y="693">23.25</text><text x="2012" y="693" font-weight="bold">59.43</text>
<text x="1817" y="712">1</text><text x="1908" y="712" font-weight="bold">30.17</text><text x="2012" y="712">58.22</text>
<text x="1817" y="731">2</text><text x="1908" y="731">27.34</text><text x="2012" y="731">59.27</text>
<text x="1817" y="750">4</text><text x="1908" y="750">24.91</text><text x="2012" y="750">58.47</text>
<text x="1817" y="769">8</text><text x="1908" y="769">25.72</text><text x="2012" y="769">57.19</text>
<text x="1817" y="788">16</text><text x="1908" y="788">28.41</text><text x="2012" y="788">50.22</text>
<text x="1817" y="807">Entire Image</text><text x="1908" y="807">22.79</text><text x="2012" y="807">57.37</text>
</g>
</g>
<g font-size="22">
<text x="2110" y="658" font-weight="bold" textLength="352" lengthAdjust="spacingAndGlyphs">Ablating the effect of peripheral</text>
<text x="2110" y="686" font-weight="bold" textLength="307" lengthAdjust="spacingAndGlyphs">and parafoveal information:</text>
<text x="2110" y="715" textLength="274" lengthAdjust="spacingAndGlyphs">w= 0 denotes the absence</text>
<text x="2110" y="743" textLength="318" lengthAdjust="spacingAndGlyphs">of peripheral information, while</text>
<text x="2110" y="771" textLength="340" lengthAdjust="spacingAndGlyphs">w= “Entire Image” means that no</text>
<text x="2110" y="799" textLength="322" lengthAdjust="spacingAndGlyphs">patch embedding was masked.</text>
</g>

<!-- ===== SUMMARY ===== -->
<g font-size="22">
<use href="#bul" x="1744" y="904" width="14" height="14"/><text x="1779" y="918" textLength="613" lengthAdjust="spacingAndGlyphs"><tspan font-weight="bold">GLAM</tspan> is the first model for zero-shot gaze target decoding.</text>
<use href="#bul" x="1744" y="955" width="14" height="14"/><text x="1779" y="969" textLength="574" lengthAdjust="spacingAndGlyphs">GLAM’s <tspan font-weight="bold">Gaze Encoder</tspan> combines peripheral and foveal</text>
<text x="1779" y="993" textLength="410" lengthAdjust="spacingAndGlyphs">information for richer gaze embeddings.</text>
<use href="#bul" x="1744" y="1031" width="14" height="14"/><text x="1779" y="1045" textLength="687" lengthAdjust="spacingAndGlyphs"><tspan font-weight="bold">GLAD</tspan> is a novel training strategy that grounds search descriptions</text>
<text x="1779" y="1070" textLength="506" lengthAdjust="spacingAndGlyphs">to target categories before contrastive alignment.</text>
<use href="#bul" x="1744" y="1106" width="14" height="14"/><text x="1779" y="1120" textLength="676" lengthAdjust="spacingAndGlyphs">GLAD boosts zero-shot gaze target prediction accuracy by <tspan font-weight="bold">7.83%</tspan></text>
<text x="1779" y="1144" textLength="322" lengthAdjust="spacingAndGlyphs">over naive contrastive learning.</text>
<use href="#bul" x="1744" y="1181" width="14" height="14"/><text x="1779" y="1195" textLength="662" lengthAdjust="spacingAndGlyphs">GLAM achieves <tspan font-weight="bold">11.77%</tspan> higher fully-supervised target prediction</text>
<text x="1779" y="1220" textLength="313" lengthAdjust="spacingAndGlyphs">accuracy than previous SOTA.</text>
</g>
</svg>
</body></html>
